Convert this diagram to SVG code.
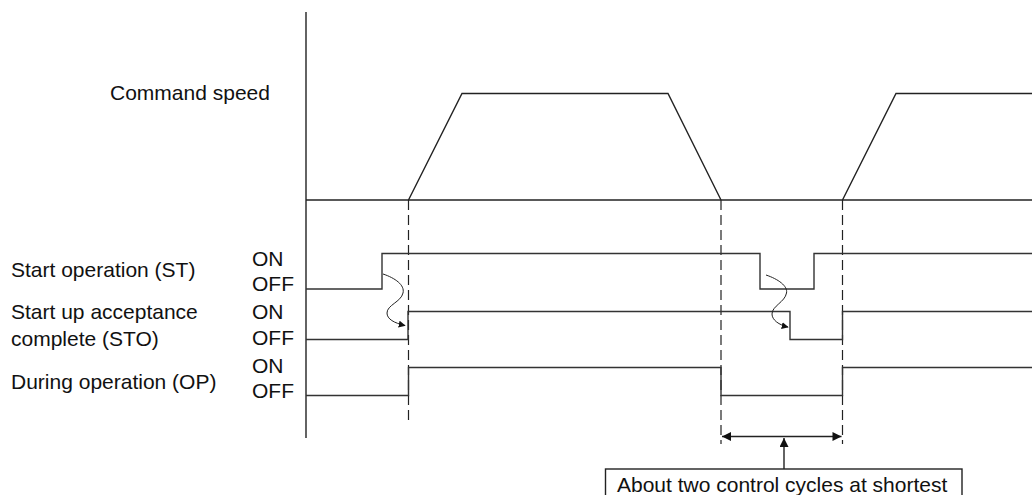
<svg xmlns="http://www.w3.org/2000/svg" width="1032" height="495" viewBox="0 0 1032 495">
<style>
text{font-family:"Liberation Sans",Arial,sans-serif;font-size:21px;fill:#111}
.ln{fill:none;stroke:#222;stroke-width:1.4}
.sig{fill:none;stroke:#333;stroke-width:1.4}
.dash{fill:none;stroke:#222;stroke-width:1.2;stroke-dasharray:10,5}
.thin{fill:none;stroke:#222;stroke-width:1}
</style>
<defs>
<marker id="ah" viewBox="0 0 10 10" refX="9" refY="5" markerWidth="7" markerHeight="7" markerUnits="userSpaceOnUse" orient="auto"><path d="M0,0L10,5L0,10z" fill="#111"/></marker>
<marker id="ab" viewBox="0 0 10 10" refX="10" refY="5" markerWidth="11" markerHeight="9" markerUnits="userSpaceOnUse" orient="auto-start-reverse"><path d="M0,0L10,5L0,10z" fill="#111"/></marker>
</defs>
<rect width="1032" height="495" fill="#fff"/>
<g id="axes">
<line class="ln" x1="306" y1="12" x2="306" y2="438"/>
<line class="ln" x1="306" y1="200" x2="1032" y2="200"/>
</g>
<g id="guides">
<line class="dash" x1="408.5" y1="200" x2="408.5" y2="422"/>
<line class="dash" x1="721" y1="200" x2="721" y2="444"/>
<line class="dash" x1="842.5" y1="200" x2="842.5" y2="444"/>
</g>
<g id="command-speed">
<text x="110" y="100">Command speed</text>
<path class="ln" d="M408.5,200L462,93.5H668L721,200"/>
<path class="ln" d="M842.5,200L896,93.5H1032"/>
</g>
<g id="st">
<text x="11" y="277">Start operation (ST)</text>
<text x="252" y="266">ON</text>
<text x="252" y="291">OFF</text>
<path class="sig" d="M306,289H382V253.5H760V289H814V253.5H1032"/>
</g>
<g id="sto">
<text x="11" y="319">Start up acceptance</text>
<text x="11" y="346">complete (STO)</text>
<text x="252" y="319">ON</text>
<text x="252" y="345">OFF</text>
<path class="sig" d="M306,339.5H408V311.5H790V339.5H842.5V311.5H1032"/>
</g>
<g id="op">
<text x="11" y="389">During operation (OP)</text>
<text x="252" y="373">ON</text>
<text x="252" y="398">OFF</text>
<path class="sig" d="M306,395.5H408.5V367.5H721V395.5H842.5V367.5H1032"/>
</g>
<g id="connectors">
<path class="thin" d="M383,274C395,278 405,285 403,293C401,302 387,305 387,313C387,319 394,323 405,325.5" marker-end="url(#ah)"/>
<path class="thin" d="M766,275C778,279 788,286 786.5,293C785,302 772,306 772,314C772,320 779,325 788,327" marker-end="url(#ah)"/>
<line class="ln" x1="722" y1="436.5" x2="841.5" y2="436.5" marker-start="url(#ab)" marker-end="url(#ab)"/>
<line class="ln" x1="784" y1="469" x2="784" y2="438" marker-end="url(#ab)"/>
</g>
<g id="note">
<rect x="605.5" y="469" width="356.5" height="40" fill="#fff" stroke="#222" stroke-width="1.4"/>
<text x="617" y="492">About two control cycles at shortest</text>
</g>
</svg>
